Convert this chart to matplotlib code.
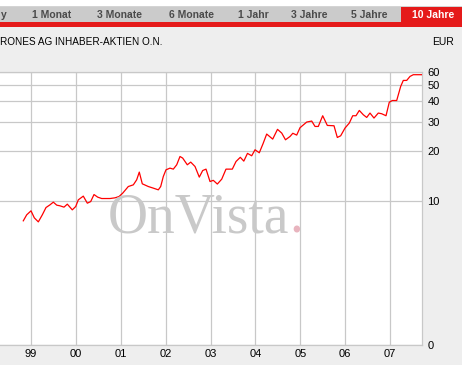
import matplotlib
matplotlib.use('Agg')
import matplotlib.pyplot as plt
from matplotlib.patches import Rectangle

# price history (decimal year, EUR)
dates = [1998.828, 1998.904, 1999.000, 1999.074, 1999.163, 1999.252, 1999.334, 1999.423,
         1999.497, 1999.573, 1999.646, 1999.735, 1999.809, 1999.920, 1999.996, 2000.054,
         2000.165, 2000.255, 2000.330, 2000.404, 2000.486, 2000.575, 2000.760, 2000.872,
         2000.961, 2001.043, 2001.168, 2001.280, 2001.355, 2001.413, 2001.480, 2001.614,
         2001.725, 2001.837, 2001.890, 2001.948, 2002.008, 2002.097, 2002.171, 2002.247,
         2002.320, 2002.380, 2002.483, 2002.559, 2002.655, 2002.750, 2002.826, 2002.900,
         2002.989, 2003.062, 2003.152, 2003.250, 2003.345, 2003.486, 2003.568, 2003.664,
         2003.742, 2003.824, 2003.918, 2003.992, 2004.087, 2004.170, 2004.252, 2004.386,
         2004.493, 2004.587, 2004.671, 2004.772, 2004.834, 2004.921, 2004.994, 2005.144,
         2005.255, 2005.329, 2005.402, 2005.500, 2005.603, 2005.752, 2005.826, 2005.901,
         2005.997, 2006.093, 2006.169, 2006.242, 2006.316, 2006.405, 2006.481, 2006.554,
         2006.643, 2006.739, 2006.815, 2006.911, 2006.984, 2007.051, 2007.149, 2007.238,
         2007.296, 2007.372, 2007.446, 2007.519, 2007.595, 2007.706]
prices = [7.57, 8.23, 8.70, 7.89, 7.46, 8.23, 9.11, 9.46,
          9.82, 9.42, 9.33, 9.16, 9.55, 8.82, 9.24, 10.14,
          10.68, 9.68, 9.90, 10.92, 10.53, 10.33, 10.33, 10.43,
          10.62, 11.13, 12.21, 12.50, 13.41, 14.93, 12.68, 12.21,
          11.94, 11.66, 12.21, 14.04, 15.41, 15.78, 15.56, 16.53,
          18.56, 18.15, 16.53, 17.16, 16.14, 13.92, 15.26, 15.56,
          13.09, 13.31, 12.64, 13.53, 15.56, 15.56, 17.30, 18.35,
          17.40, 19.38, 18.74, 20.38, 19.54, 22.16, 25.37, 23.65,
          27.09, 25.72, 23.42, 24.53, 25.65, 25.01, 27.70, 29.99,
          30.41, 28.21, 28.21, 32.75, 28.61, 28.48, 24.19, 24.77,
          27.58, 29.57, 32.75, 32.75, 35.26, 33.20, 31.98, 34.00,
          31.71, 34.00, 33.67, 32.75, 39.54, 40.49, 40.49, 49.28,
          53.58, 53.58, 56.66, 58.02, 58.02, 58.02]

year_ticks = [1999, 2000, 2001, 2002, 2003, 2004, 2005, 2006, 2007]
year_labels = ['99', '00', '01', '02', '03', '04', '05', '06', '07']
price_ticks = [1.341, 10, 20, 30, 40, 50, 60]
price_labels = ['0', '10', '20', '30', '40', '50', '60']
tabs = ['y', '1 Monat', '3 Monate', '6 Monate', '1 Jahr', '3 Jahre', '5 Jahre', '10 Jahre']
tab_x = [0.5, 52, 119.5, 191.5, 253, 309.5, 369.5, 433]

W, H = 462, 365
plt.rcParams['font.family'] = ['Liberation Sans', 'DejaVu Sans']


def fx(x):
    return x / W


def fy(y):
    return 1 - y / H


fig = plt.figure(figsize=(W / 100, H / 100), dpi=100, facecolor='#eeeeee')

# header: white strip, grey tab bar, red underline
fig.add_artist(Rectangle((0, fy(6)), 1, 1 - fy(6), transform=fig.transFigure, color='white', lw=0))
fig.add_artist(Rectangle((0, fy(7)), 1, fy(6) - fy(7), transform=fig.transFigure, color='#d4d4d4', lw=0))
fig.add_artist(Rectangle((0, fy(22)), 1, fy(7) - fy(22), transform=fig.transFigure, color='#cbcbcb', lw=0))
fig.add_artist(Rectangle((fx(400.5), fy(22)), 1 - fx(400.5), fy(7) - fy(22), transform=fig.transFigure,
                         color='#e51a1a', lw=0))
fig.add_artist(Rectangle((0, fy(27)), 1, fy(22) - fy(27), transform=fig.transFigure, color='#e51a1a', lw=0))

for i, (t, x) in enumerate(zip(tabs, tab_x)):
    active = i == len(tabs) - 1
    fig.text(fx(x), fy(15), t, ha='left' if i == 0 else 'center', va='center', fontsize=7.5,
             fontweight='bold', color='white' if active else '#4a4a4a')

fig.text(fx(0.5), fy(42), 'RONES AG INHABER-AKTIEN O.N.', ha='left', va='center', fontsize=7.2, color='black')
fig.text(fx(454), fy(42), 'EUR', ha='right', va='center', fontsize=7.5, color='black')

ax = fig.add_axes([0, fy(345), fx(422), fy(72.3) - fy(345)])
ax.set_facecolor('white')
ax.set_yscale('log')
ax.set_xlim(1998.309, 2007.713)
ax.set_ylim(price_ticks[0], 60)

ax.set_xticks(year_ticks)
ax.set_xticklabels(year_labels)
ax.set_yticks(price_ticks)
ax.set_yticklabels(price_labels)
ax.yaxis.set_minor_locator(matplotlib.ticker.NullLocator())
ax.yaxis.tick_right()
ax.tick_params(axis='both', length=0, labelsize=8, colors='black')
ax.tick_params(axis='y', pad=4)
ax.tick_params(axis='x', pad=3)
ax.grid(True, color='#c8c8c8', lw=0.9)
ax.set_axisbelow(True)
for side, sp in ax.spines.items():
    sp.set_color('#c8c8c8')
    sp.set_linewidth(0.9)
ax.spines['left'].set_visible(False)

# watermark
fig.text(fx(108), fy(232), 'OnVista', fontsize=40, family='Liberation Serif', color='#c9c9c9',
         ha='left', va='baseline', zorder=1.5)
fig.text(fx(289), fy(232), '.', fontsize=40, family='Liberation Serif', color='#e8b4be',
         ha='left', va='baseline', zorder=1.5)

ax.plot(dates, prices, color='#ff0000', lw=0.9, zorder=3)

fig.savefig('out.png', dpi=100, facecolor=fig.get_facecolor())
